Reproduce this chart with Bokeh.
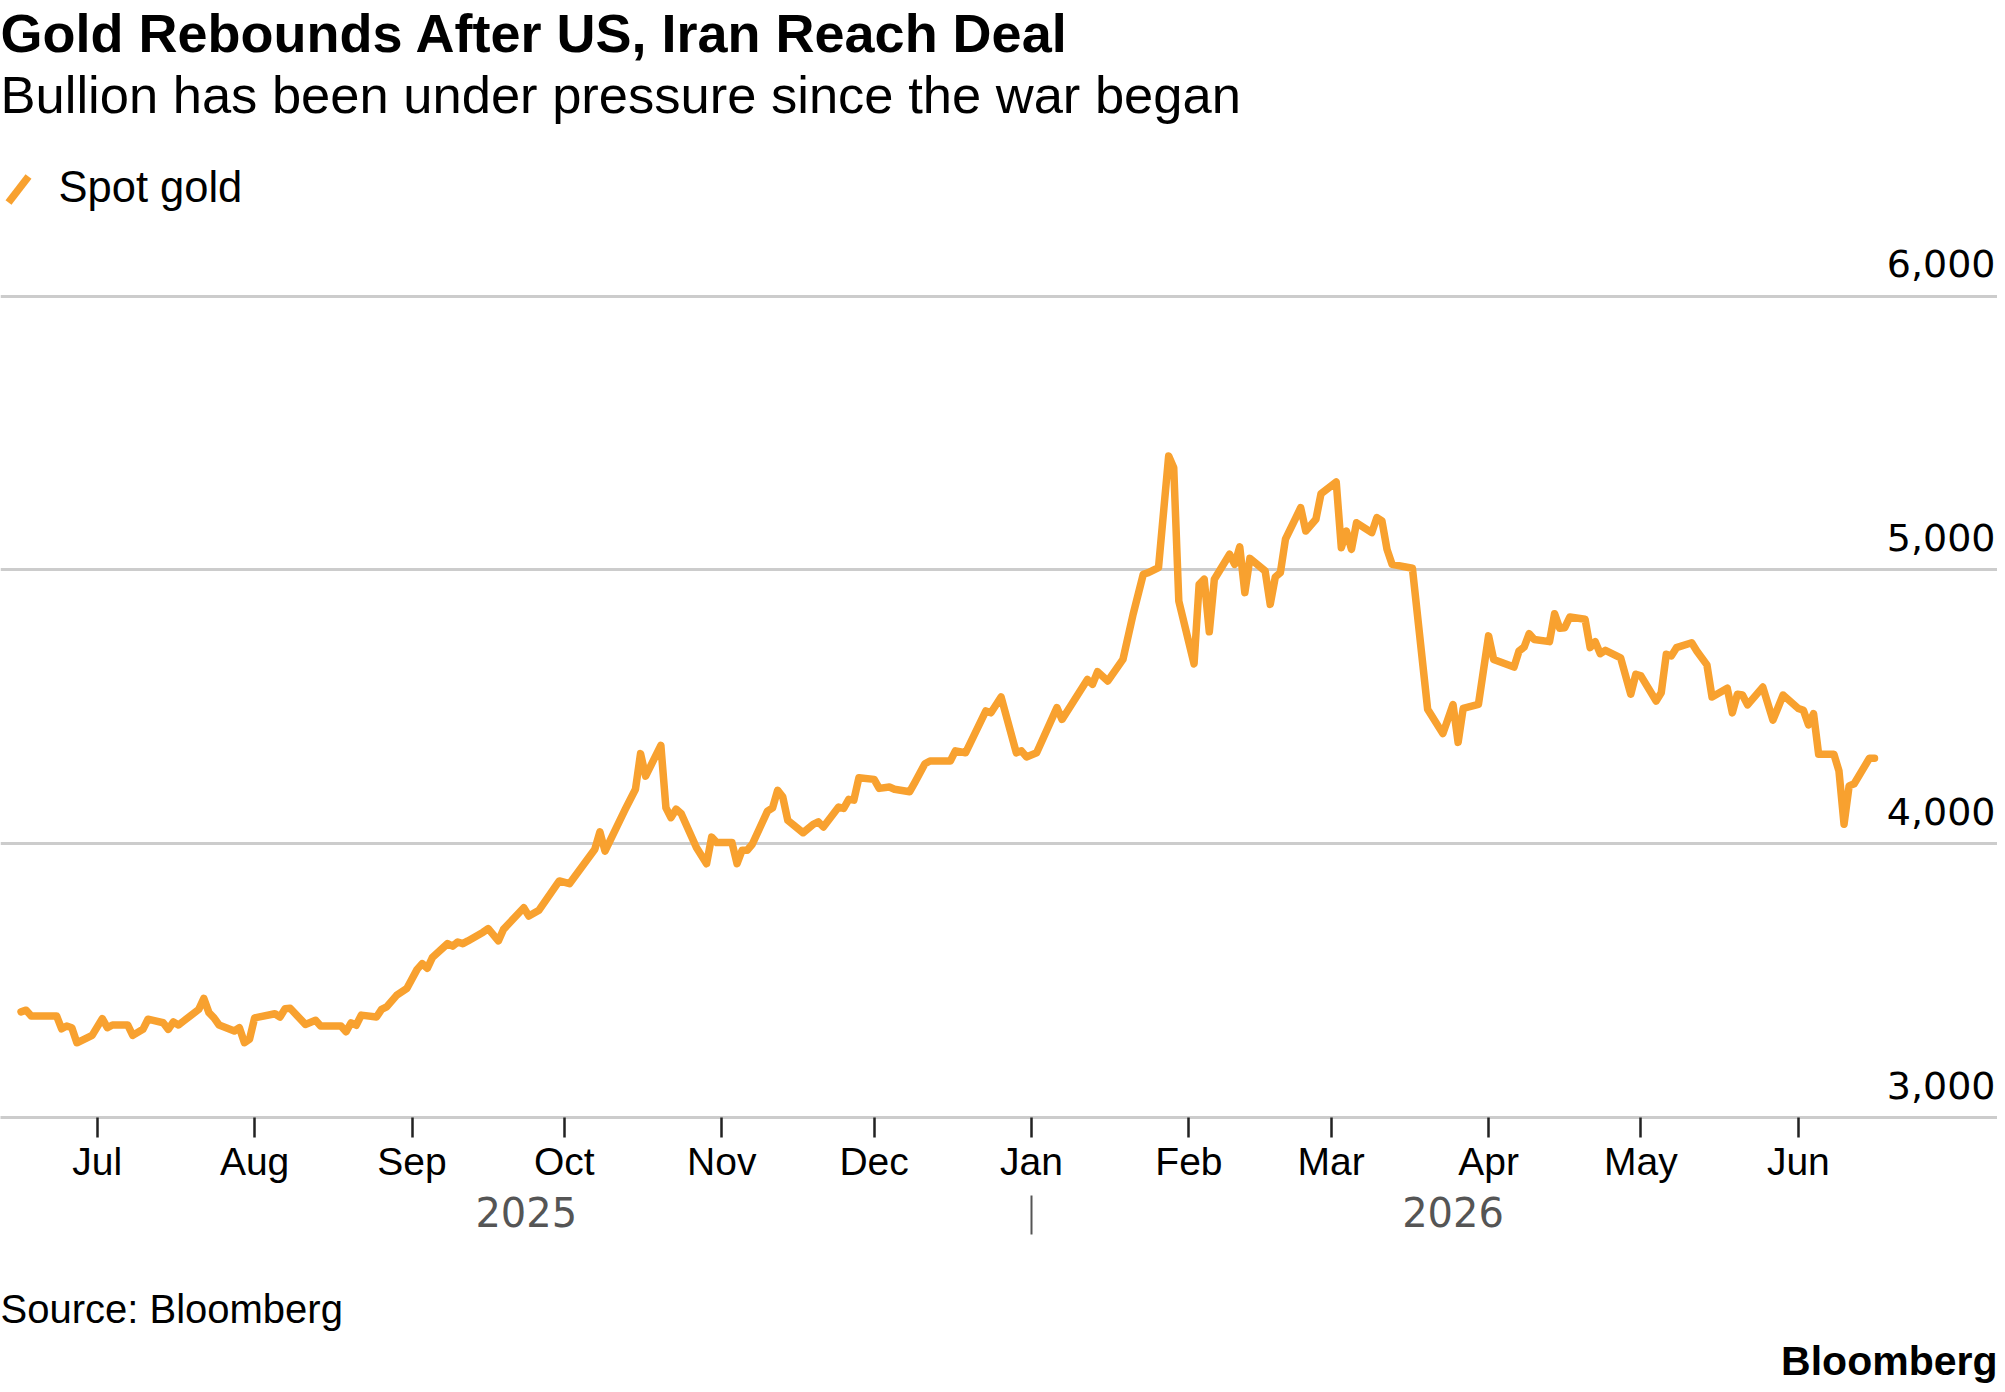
import pandas as pd
from bokeh.plotting import figure
from bokeh.layouts import column
from bokeh.models import (ColumnDataSource, Range1d, LinearAxis, DatetimeAxis, FixedTicker,
                          NumeralTickFormatter, DatetimeTickFormatter, Label, Arrow, Grid)
from bokeh.embed import file_html
from bokeh.resources import INLINE

# ---------------- data ----------------
dates = [
    "2025-06-16", "2025-06-17", "2025-06-18", "2025-06-23", "2025-06-24", "2025-06-25", "2025-06-26",
    "2025-06-27", "2025-06-30", "2025-07-02", "2025-07-03", "2025-07-04", "2025-07-07", "2025-07-08",
    "2025-07-10", "2025-07-11", "2025-07-14", "2025-07-15", "2025-07-16", "2025-07-17", "2025-07-18",
    "2025-07-21", "2025-07-22", "2025-07-23", "2025-07-24", "2025-07-25", "2025-07-28", "2025-07-29",
    "2025-07-30", "2025-07-31", "2025-08-01", "2025-08-05", "2025-08-06", "2025-08-07", "2025-08-08",
    "2025-08-11", "2025-08-13", "2025-08-14", "2025-08-18", "2025-08-19", "2025-08-20", "2025-08-21",
    "2025-08-22", "2025-08-25", "2025-08-26", "2025-08-27", "2025-08-29", "2025-08-31", "2025-09-02",
    "2025-09-03", "2025-09-04", "2025-09-05", "2025-09-08", "2025-09-09", "2025-09-10", "2025-09-11",
    "2025-09-12", "2025-09-15", "2025-09-16", "2025-09-18", "2025-09-19", "2025-09-23", "2025-09-24",
    "2025-09-26", "2025-09-30", "2025-10-02", "2025-10-07", "2025-10-08", "2025-10-09", "2025-10-13",
    "2025-10-15", "2025-10-16", "2025-10-17", "2025-10-20", "2025-10-21", "2025-10-22", "2025-10-23",
    "2025-10-24", "2025-10-27", "2025-10-29", "2025-10-30", "2025-10-31", "2025-11-03", "2025-11-04",
    "2025-11-05", "2025-11-06", "2025-11-07", "2025-11-10", "2025-11-11", "2025-11-12", "2025-11-13",
    "2025-11-14", "2025-11-17", "2025-11-19", "2025-11-20", "2025-11-21", "2025-11-24", "2025-11-25",
    "2025-11-26", "2025-11-27", "2025-11-28", "2025-12-01", "2025-12-02", "2025-12-04", "2025-12-05",
    "2025-12-08", "2025-12-09", "2025-12-11", "2025-12-12", "2025-12-16", "2025-12-17", "2025-12-19",
    "2025-12-23", "2025-12-24", "2025-12-26", "2025-12-29", "2025-12-30", "2025-12-31", "2026-01-02",
    "2026-01-06", "2026-01-07", "2026-01-12", "2026-01-13", "2026-01-14", "2026-01-16", "2026-01-19",
    "2026-01-21", "2026-01-23", "2026-01-24", "2026-01-26", "2026-01-28", "2026-01-29", "2026-01-30",
    "2026-02-02", "2026-02-03", "2026-02-04", "2026-02-05", "2026-02-06", "2026-02-09", "2026-02-10",
    "2026-02-11", "2026-02-12", "2026-02-13", "2026-02-16", "2026-02-17", "2026-02-18", "2026-02-19",
    "2026-02-20", "2026-02-23", "2026-02-24", "2026-02-26", "2026-02-27", "2026-03-02", "2026-03-03",
    "2026-03-04", "2026-03-05", "2026-03-06", "2026-03-09", "2026-03-10", "2026-03-11", "2026-03-12",
    "2026-03-13", "2026-03-17", "2026-03-20", "2026-03-23", "2026-03-25", "2026-03-26", "2026-03-27",
    "2026-03-30", "2026-04-01", "2026-04-02", "2026-04-06", "2026-04-07", "2026-04-08", "2026-04-09",
    "2026-04-10", "2026-04-13", "2026-04-14", "2026-04-15", "2026-04-16", "2026-04-17", "2026-04-20",
    "2026-04-21", "2026-04-22", "2026-04-23", "2026-04-24", "2026-04-27", "2026-04-29", "2026-04-30",
    "2026-05-01", "2026-05-04", "2026-05-05", "2026-05-06", "2026-05-07", "2026-05-08", "2026-05-11",
    "2026-05-12", "2026-05-14", "2026-05-15", "2026-05-18", "2026-05-19", "2026-05-20", "2026-05-21",
    "2026-05-22", "2026-05-25", "2026-05-27", "2026-05-29", "2026-06-01", "2026-06-02", "2026-06-03",
    "2026-06-04", "2026-06-05", "2026-06-08", "2026-06-09", "2026-06-10", "2026-06-11", "2026-06-12",
    "2026-06-15", "2026-06-16",
]
spot_gold = [
    3386, 3392, 3371, 3371, 3324, 3334, 3328,
    3273, 3300, 3361, 3328, 3338, 3338, 3300,
    3322, 3359, 3346, 3322, 3349, 3338, 3352,
    3395, 3435, 3383, 3364, 3338, 3316, 3328,
    3273, 3286, 3364, 3379, 3367, 3397, 3399,
    3340, 3355, 3334, 3334, 3313, 3346, 3337,
    3374, 3367, 3395, 3404, 3447, 3472, 3541,
    3562, 3545, 3584, 3635, 3626, 3641, 3635,
    3645, 3677, 3690, 3645, 3687, 3766, 3736,
    3757, 3864, 3854, 3980, 4043, 3973, 4126,
    4199, 4329, 4247, 4359, 4131, 4095, 4126,
    4110, 3986, 3927, 4024, 4004, 4004, 3927,
    3976, 3976, 3998, 4119, 4131, 4195, 4171,
    4085, 4040, 4071, 4080, 4061, 4134, 4129,
    4162, 4159, 4241, 4235, 4202, 4207, 4199,
    4190, 4223, 4292, 4302, 4302, 4339, 4332,
    4485, 4478, 4536, 4332, 4339, 4317, 4332,
    4497, 4454, 4600, 4582, 4628, 4594, 4673,
    4838, 4984, 4990, 5008, 5416, 5373, 4886,
    4657, 4947, 4966, 4774, 4966, 5057, 5020,
    5084, 4917, 5042, 4996, 4874, 4974, 4990,
    5112, 5227, 5142, 5185, 5278, 5321, 5081,
    5142, 5075, 5172, 5136, 5191, 5179, 5075,
    5020, 5006, 4491, 4402, 4508, 4370, 4494,
    4509, 4759, 4673, 4645, 4704, 4718, 4767,
    4746, 4738, 4840, 4787, 4789, 4828, 4820,
    4716, 4738, 4694, 4706, 4679, 4546, 4619,
    4613, 4521, 4551, 4692, 4686, 4716, 4734,
    4704, 4653, 4536, 4568, 4478, 4546, 4543,
    4507, 4572, 4451, 4543, 4494, 4487, 4434,
    4475, 4327, 4327, 4266, 4071, 4211, 4219,
    4312, 4312,
]
month_ticks = ["2025-07-01", "2025-08-01", "2025-09-01", "2025-10-01", "2025-11-01", "2025-12-01",
               "2026-01-01", "2026-02-01", "2026-03-01", "2026-04-01", "2026-05-01", "2026-06-01"]
year_break = "2026-01-01"
y_ticks = [3000, 4000, 5000, 6000]
grid_values = [4000, 5000, 6000]

title_text = "Gold Rebounds After US, Iran Reach Deal"
subtitle_text = "Bullion has been under pressure since the war began"
legend_text = "Spot gold"
source_text = "Source: Bloomberg"
brand_text = "Bloomberg"

# ---------------- geometry / style ----------------
ORANGE = "#F8A12F"
GRID = "#cccccc"
W = 1997
MAIN_H = 1260
FOOT_H = 124
FRAME_H = 1117
PX_PER_DAY = 5.078
PX_PER_UNIT = 0.2738
DAY_MS = 86400000.0
BASE_CORR = 0.34   # baseline correction (fraction of font size)


def ms(t):
    return pd.Timestamp(t).value / 1e6


x_start = ms("2025-07-01") - (96.7 / PX_PER_DAY) * DAY_MS
x_end = x_start + (W / PX_PER_DAY) * DAY_MS
y_start = 3000.0
y_end = y_start + FRAME_H / PX_PER_UNIT
label_shift = 32.5 / PX_PER_UNIT

ts = pd.to_datetime(dates)
brk = pd.Timestamp(year_break)
mid25 = ts.min() + (brk - ts.min()) / 2
mid26 = brk + (ts.max() - brk) / 2

source = ColumnDataSource(dict(date=ts, price=spot_gold))

p = figure(width=W, height=MAIN_H, x_axis_type="datetime", y_axis_location=None,
           x_range=Range1d(x_start, x_end), y_range=Range1d(y_start, y_end),
           output_backend="svg", toolbar_location=None,
           min_border_left=0, min_border_right=0, min_border_top=0,
           min_border_bottom=MAIN_H - FRAME_H)
p.outline_line_color = None
p.background_fill_color = "white"
p.border_fill_color = "white"
p.extra_y_ranges = {"lbl": Range1d(y_start - label_shift, y_end - label_shift)}

for r in list(p.center):
    if isinstance(r, Grid):
        r.visible = False
p.add_layout(Grid(dimension=1, ticker=FixedTicker(ticks=grid_values),
                  grid_line_color=GRID, grid_line_width=3))

p.line(x="date", y="price", source=source, line_color=ORANGE, line_width=7.5,
       line_join="round", line_cap="round")


def fmt(f):
    return DatetimeTickFormatter(microseconds=f, milliseconds=f, seconds=f, minsec=f, minutes=f,
                                 hourmin=f, hours=f, days=f, months=f, years=f)


# month axis
xa = p.xaxis[0]
xa.ticker = FixedTicker(ticks=[ms(m) for m in month_ticks])
xa.formatter = fmt("%b")
xa.axis_line_color = GRID
xa.axis_line_width = 3
xa.major_tick_line_color = "#222222"
xa.major_tick_line_width = 2.5
xa.major_tick_out = 20
xa.major_tick_in = 0
xa.minor_tick_line_color = None
xa.major_label_standoff = 2
xa.major_label_text_font = "Liberation Sans"
xa.major_label_text_font_size = "39px"
xa.major_label_text_color = "#000000"

# year axis
ya = DatetimeAxis(ticker=FixedTicker(ticks=[ms(mid25), ms(mid26)], minor_ticks=[ms(year_break)]),
                  formatter=fmt("%Y"))
ya.axis_line_color = None
ya.major_tick_line_color = None
ya.major_tick_out = 0
ya.major_tick_in = 0
ya.minor_tick_line_color = "#555555"
ya.minor_tick_line_width = 2
ya.minor_tick_in = -10
ya.minor_tick_out = 49
ya.major_label_standoff = -38
ya.major_label_text_font = "DejaVu Sans"
ya.major_label_text_font_size = "40px"
ya.major_label_text_color = "#555555"
p.add_layout(ya, "below")

# value labels sitting on the gridlines at the right edge
yl = LinearAxis(y_range_name="lbl", fixed_location=x_end,
                ticker=FixedTicker(ticks=y_ticks), formatter=NumeralTickFormatter(format="0,0"))
yl.axis_line_color = None
yl.major_tick_line_color = None
yl.minor_tick_line_color = None
yl.major_tick_out = 0
yl.major_tick_in = 0
yl.major_label_standoff = 2
yl.major_label_text_font = "DejaVu Sans"
yl.major_label_text_font_size = "38px"
yl.major_label_text_color = "#000000"
p.add_layout(yl, "left")


def lab(text, x, baseline_from_top, frame_h, size, bold=False, color="#000000", align="left"):
    y = frame_h - (baseline_from_top - BASE_CORR * size)
    return Label(x=x, y=y, x_units="screen", y_units="screen", text=text,
                 text_font="Liberation Sans", text_font_size=f"{size}px",
                 text_font_style="bold" if bold else "normal", text_color=color,
                 text_align=align, text_baseline="alphabetic")


p.add_layout(lab(title_text, 0, 51, FRAME_H, 54, bold=True))
p.add_layout(lab(subtitle_text, 0, 112, FRAME_H, 52.5))
p.add_layout(lab(legend_text, 58, 201, FRAME_H, 43.5))
p.add_layout(Arrow(end=None, x_start=8, y_start=FRAME_H - 202, x_end=28, y_end=FRAME_H - 176,
                   start_units="screen", end_units="screen", line_color=ORANGE, line_width=7.5,
                   line_cap="butt"))

# footer
f = figure(width=W, height=FOOT_H, x_range=Range1d(0, 1), y_range=Range1d(0, 1),
           x_axis_location=None, y_axis_location=None, output_backend="svg",
           toolbar_location=None, min_border=0)
f.outline_line_color = None
f.background_fill_color = "white"
f.border_fill_color = "white"
for r in list(f.center):
    if isinstance(r, Grid):
        r.visible = False
f.add_layout(lab(source_text, 0, 62, FOOT_H, 40))
f.add_layout(lab(brand_text, W, 114, FOOT_H, 41, bold=True, align="right"))

layout = column(p, f, spacing=0)
open("out.html", "w").write(file_html(layout, INLINE))
